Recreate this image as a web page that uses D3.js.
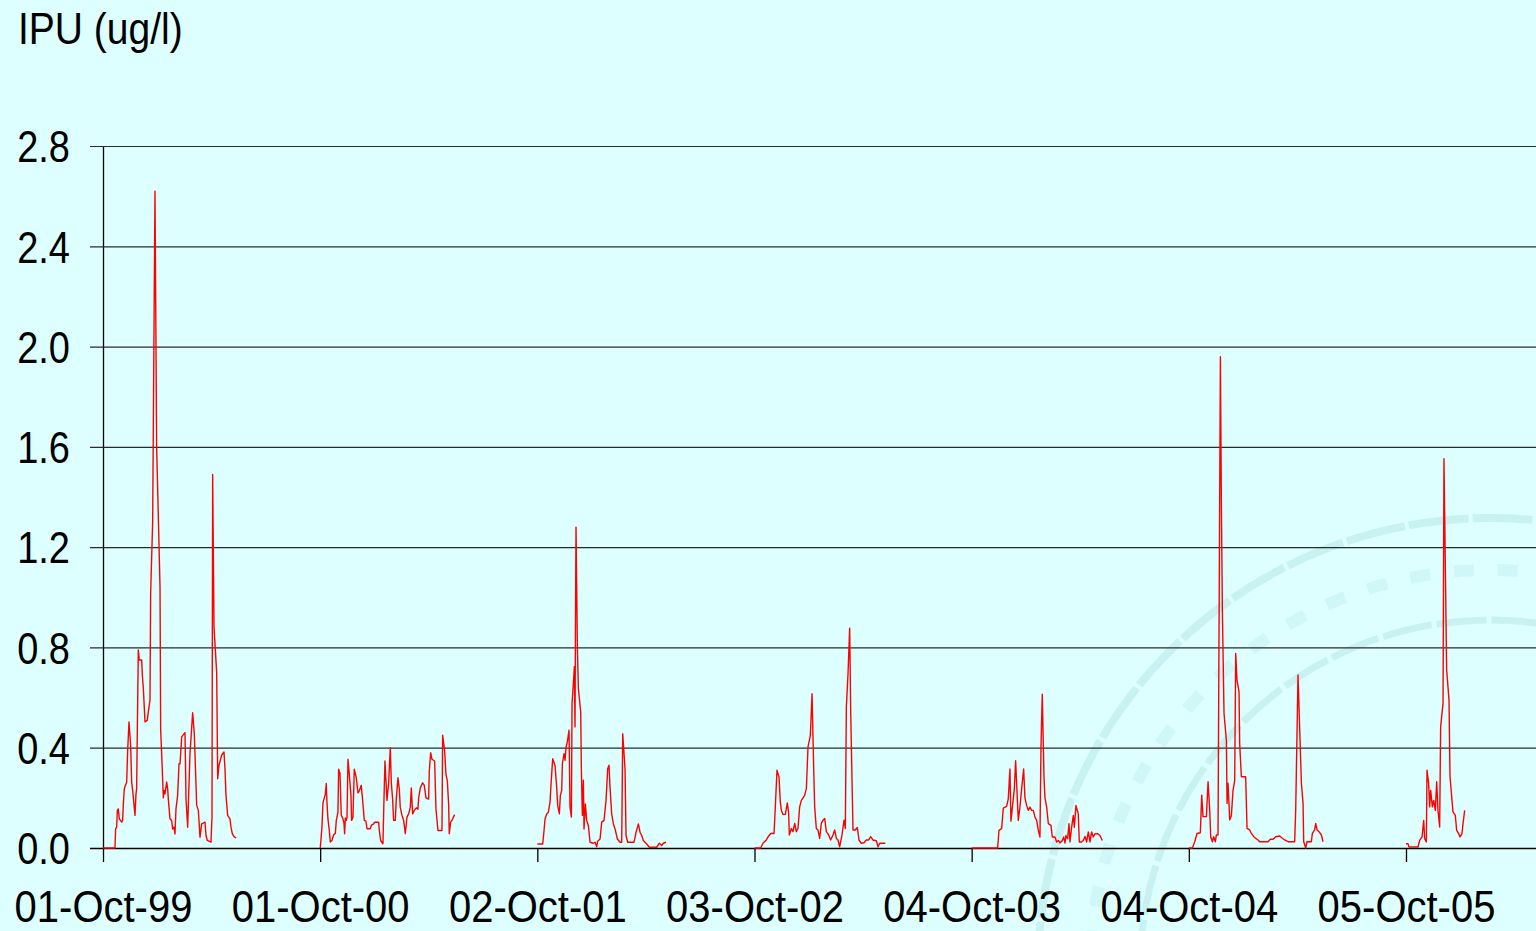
<!DOCTYPE html>
<html>
<head>
<meta charset="utf-8">
<script src="https://cdn.jsdelivr.net/npm/d3@7"></script>
<style>
  html, body { margin: 0; padding: 0; background: #ddffff; overflow: hidden; }
  svg { display: block; }
</style>
</head>
<body>
<div id="chart"></div>
<script>
// tick dates and labels on the x axis (one tick per season start)
const tickDates = ['1999-10-01', '2000-10-01', '2001-10-02', '2002-10-03', '2003-10-04', '2004-10-04', '2005-10-05'];
const tickLabels = ['01-Oct-99', '01-Oct-00', '02-Oct-01', '03-Oct-02', '04-Oct-03', '04-Oct-04', '05-Oct-05'];
const yTicks = [0, 0.4, 0.8, 1.2, 1.6, 2.0, 2.4, 2.8];

// [days since season tick, IPU ug/l]
const season1999 = [[0,0],[20.2,0],[21.3,0.076],[23,0.083],[24.2,0.15],[25.8,0.156],[27.5,0.116],[31.5,0.103],[33.1,0.11],[34.3,0.176],[35.9,0.236],[39.9,0.263],[41.6,0.39],[43.8,0.503],[46.6,0.41],[48.3,0.263],[50,0.23],[53.9,0.13],[55.6,0.216],[56.7,0.236],[59.5,0.79],[61.2,0.75],[65.2,0.75],[66.3,0.69],[68,0.636],[70.8,0.503],[74.7,0.51],[76.4,0.543],[79.2,0.59],[80.3,1.016],[83.7,1.3],[87.6,2.62],[90.4,1.6],[96.1,1.04],[97.2,0.47],[98.9,0.376],[101.7,0.2],[102.8,0.23],[104.5,0.216],[107.3,0.263],[109,0.236],[110.1,0.196],[112.9,0.116],[115.7,0.11],[117.4,0.076],[119.7,0.083],[121.3,0.056],[123,0.156],[125.8,0.21],[128.1,0.336],[129.8,0.336],[132.6,0.443],[138.2,0.46],[139.9,0.196],[142.7,0.083],[146.6,0.376],[151.1,0.54],[153.9,0.456],[157.9,0.17],[160.7,0.15],[163.5,0.043],[166.3,0.096],[171.9,0.103],[173.6,0.05],[175.8,0.03],[182,0.023],[183.7,0.123],[184.8,1.49],[187.1,0.88],[191.6,0.7],[193.3,0.276],[195.5,0.33],[200,0.37],[203.9,0.383],[205.6,0.316],[207.3,0.21],[210.1,0.13],[214,0.116],[215.7,0.083],[218,0.056],[220.8,0.045],[224.2,0.04]];

const season2000 = [[0.2,0],[3,0.083],[4.7,0.18],[8.7,0.215],[10.3,0.257],[11.5,0.18],[13.1,0.116],[15.4,0.07],[17.1,0.024],[19.9,0.03],[22.7,0.053],[25.5,0.057],[27.2,0.11],[30,0.143],[31.1,0.314],[33.4,0.297],[35.6,0.13],[37.9,0.12],[40.1,0.1],[41.2,0.057],[42.4,0.12],[44,0.11],[45.2,0.12],[46.9,0.354],[49.1,0.294],[51.9,0.21],[53,0.11],[55.3,0.123],[57.5,0.314],[60.9,0.28],[63.7,0.22],[66,0.228],[69.3,0.25],[71.6,0.19],[74.4,0.11],[77.2,0.107],[78.9,0.077],[84.5,0.077],[86.2,0.09],[90.1,0.096],[91.8,0.103],[98.5,0.103],[99.7,0.07],[101.9,0.03],[105.8,0.017],[107.5,0.19],[109.2,0.347],[112.6,0.19],[115.4,0.26],[118.2,0.4],[119.9,0.26],[122.1,0.195],[123.8,0.11],[126.6,0.11],[128.3,0.195],[131.1,0.28],[133.4,0.235],[135,0.162],[137.9,0.13],[140.7,0.11],[143.5,0.057],[146.3,0.123],[149.1,0.136],[151.9,0.162],[153.6,0.24],[155.8,0.136],[158.7,0.15],[162,0.16],[164.8,0.155],[166,0.2],[168.8,0.24],[172.7,0.26],[175.5,0.25],[178.3,0.2],[182.8,0.195],[183.9,0.307],[186.2,0.38],[188.4,0.354],[192.9,0.347],[195.2,0.155],[198.5,0.07],[205.3,0.07],[206.4,0.45],[209.8,0.387],[212,0.294],[214.3,0.268],[216.5,0.176],[217.6,0.057],[219.9,0.103],[222.1,0.11],[226.6,0.133]];

const season2001 = [[0,0.016],[9.1,0.016],[11.3,0.07],[13,0.116],[15.8,0.136],[18.6,0.143],[21.4,0.183],[23.1,0.256],[25.9,0.356],[29.8,0.33],[32.6,0.243],[34.3,0.17],[37.1,0.136],[38.8,0.21],[41.1,0.23],[42.2,0.336],[45,0.376],[46.7,0.35],[48.4,0.403],[50.6,0.423],[53.4,0.47],[55.1,0.163],[57.4,0.123],[58.5,0.576],[60.7,0.656],[62.4,0.723],[63.5,0.483],[64.3,0.91],[65.2,1.28],[67.5,0.8],[69.2,0.636],[73.1,0.543],[74.2,0.316],[75.9,0.13],[77.6,0.27],[78.7,0.076],[81,0.176],[83.2,0.11],[86,0.09],[88.8,0.023],[94.4,0.019],[97.3,0.023],[100.1,0.005],[101.7,0.027],[105.7,0.036],[108.5,0.103],[112.4,0.11],[115.8,0.19],[118.6,0.316],[120.8,0.33],[122.5,0.243],[125.3,0.136],[128.2,0.096],[131,0.076],[134.9,0.036],[139.4,0.023],[142.2,0.023],[143.9,0.456],[147.8,0.316],[149.5,0.05],[152.3,0.023],[163,0.023],[166.4,0.063],[170.3,0.096],[173.1,0.063],[175.9,0.05],[178.7,0.03],[184.3,0.016],[188.8,0.003],[201.2,0.003],[205.7,0.019],[209.6,0.01],[212.4,0.019],[216.9,0.023]];

const season2002 = [[0,0],[10.4,0],[14.3,0.019],[19.9,0.032],[23.9,0.048],[27.3,0.058],[32.9,0.058],[35.1,0.164],[37.9,0.31],[41.3,0.283],[43.5,0.184],[45.2,0.151],[48,0.134],[52,0.134],[55.3,0.18],[57.6,0.138],[58.7,0.052],[62.1,0.078],[64.9,0.065],[67.7,0.098],[70.5,0.065],[73.3,0.078],[76.1,0.164],[79,0.19],[84.6,0.21],[87.4,0.237],[90.2,0.403],[94.1,0.449],[97,0.615],[99.7,0.323],[101.4,0.164],[104.2,0.078],[107,0.072],[109.8,0.038],[112.6,0.098],[115.5,0.111],[118.3,0.118],[121.1,0.065],[125,0.052],[128.4,0.032],[132.3,0.052],[135.1,0.072],[138,0.038],[140.7,0.032],[143.5,0.005],[147.5,0.052],[150.9,0.111],[153.1,0.078],[154.8,0.562],[157.6,0.694],[160.4,0.877],[162.1,0.548],[166,0.072],[169.9,0.072],[173.3,0.082],[176.1,0.032],[180,0.019],[184.6,0.021],[188.5,0.032],[192.4,0.032],[195.8,0.045],[199.7,0.032],[205.3,0.029],[208.2,0.005],[211,0.019],[220.5,0.019]];

const season2003 = [[0,0],[43.8,0],[46,0.07],[50.5,0.077],[53.3,0.159],[58.9,0.166],[61.7,0.196],[64.5,0.315],[66.2,0.107],[69,0.17],[71.9,0.236],[74.1,0.348],[76.3,0.23],[78.6,0.11],[81.4,0.163],[84.2,0.236],[87.6,0.315],[89.8,0.2],[92.6,0.17],[95.5,0.15],[98.3,0.163],[101.1,0.15],[103.9,0.15],[106.7,0.123],[109.5,0.11],[112.3,0.07],[115.1,0.044],[116.8,0.4],[119,0.613],[121.9,0.282],[123.5,0.2],[126.4,0.163],[129.2,0.097],[133.7,0.09],[135.9,0.044],[140.4,0.044],[143.2,0.024],[146,0.03],[148.8,0.02],[152.8,0.03],[155,0.044],[157.3,0.02],[158.9,0.05],[161.7,0.037],[164,0.097],[165.7,0.024],[168.5,0.083],[171.3,0.13],[173,0.083],[175.8,0.17],[179.7,0.136],[181.4,0.024],[185.3,0.024],[188.1,0.03],[191,0.046],[193.8,0.024],[196.6,0.064],[199.4,0.024],[202.2,0.064],[205,0.044],[207.8,0.057],[212.3,0.057],[216.2,0.05],[220.2,0.03]];

const season2004 = [[0,0],[6,0],[9.9,0.025],[13.8,0.058],[19.4,0.061],[21.7,0.211],[23.9,0.125],[29.6,0.125],[32.4,0.264],[35.2,0.151],[36.9,0.045],[39.7,0.025],[41.9,0.045],[44.7,0.025],[46.4,0.052],[49.2,0.052],[53.2,1.96],[54.8,1.39],[56.5,0.95],[59.3,0.537],[63.3,0.43],[64.4,0.178],[66.1,0.258],[68.9,0.112],[71.7,0.13],[74.5,0.23],[77.3,0.27],[79,0.776],[81.2,0.67],[84.6,0.623],[85.7,0.417],[88.5,0.284],[95.8,0.284],[98.1,0.078],[102.6,0.072],[105.4,0.058],[109.3,0.045],[112.7,0.039],[116.6,0.032],[119.4,0.025],[133.5,0.025],[137.4,0.035],[141.9,0.035],[146.4,0.045],[153.2,0.048],[157.6,0.039],[161.6,0.032],[167.2,0.025],[178.4,0.025],[180.1,0.151],[184,0.69],[186.9,0.47],[189.7,0.258],[192.5,0.178],[193.6,0.025],[197,0],[199.2,0.025],[206.5,0.025],[208.2,0.058],[212.1,0.072],[213.8,0.098],[216.1,0.072],[219.4,0.065],[223.4,0.052],[226.2,0.025]];

const season2005 = [[0,0.017],[3.4,0.017],[5.1,0.004],[20.2,0.004],[23,0.03],[27,0.044],[29.8,0.11],[31.5,0.037],[34.3,0.024],[35.4,0.31],[38.2,0.257],[39.9,0.164],[41.6,0.23],[44.4,0.164],[46.6,0.19],[49.4,0.15],[51.7,0.264],[53.9,0.15],[56.7,0.084],[58.4,0.484],[62.4,0.577],[64,1.553],[68.5,0.71],[72.5,0.59],[74.2,0.284],[77.5,0.19],[79.2,0.144],[83.1,0.13],[85.4,0.07],[88.8,0.057],[91,0.044],[94.4,0.057],[96.1,0.097],[98.9,0.15]];

const seasons = [season1999, season2000, season2001, season2002, season2003, season2004, season2005];

const width = 1536;
const height = 931;
const margin = { top: 146, right: 0, bottom: 83, left: 103 };
const font = '"Liberation Sans", Arial, Helvetica, sans-serif';

const parse = d3.utcParse('%Y-%m-%d');
const starts = tickDates.map(parse);
const dayMs = 864e5;

const svg = d3.select('#chart')
  .append('svg')
  .attr('width', width)
  .attr('height', height)
  .attr('viewBox', `0 0 ${width} ${height}`);

svg.append('rect')
  .attr('width', width)
  .attr('height', height)
  .attr('fill', '#ddffff');

// faint seal watermark behind the plot
const wm = svg.append('g')
  .attr('fill', 'none')
  .attr('stroke', '#c2eeee')
  .attr('opacity', 0.75);
wm.append('circle')
  .attr('cx', 1490).attr('cy', 970).attr('r', 452)
  .attr('stroke-width', 8)
  .attr('stroke-dasharray', '60 4');
wm.append('circle')
  .attr('cx', 1490).attr('cy', 970).attr('r', 350)
  .attr('stroke-width', 7)
  .attr('stroke-dasharray', '50 5');
wm.append('circle')
  .attr('cx', 1490).attr('cy', 970).attr('r', 400)
  .attr('stroke-width', 12)
  .attr('stroke-dasharray', '20 24')
  .attr('opacity', 0.6);

// the x scale runs past the last tick to the right edge of the picture
const x = d3.scaleUtc()
  .domain([starts[0], starts[6]])
  .range([margin.left, 1406]);

const y = d3.scaleLinear()
  .domain([0, 2.8])
  .range([height - margin.bottom, margin.top]);

// y axis with gridlines reaching across the plot
const yAxis = d3.axisLeft(y)
  .tickValues(yTicks)
  .tickFormat(d3.format('.1f'))
  .tickSize(13)
  .tickSizeOuter(0)
  .tickPadding(20);

svg.append('g')
  .attr('transform', `translate(${margin.left},0)`)
  .call(yAxis)
  .call(g => g.select('.domain').attr('stroke', '#000').attr('stroke-width', 1.3))
  .call(g => g.selectAll('.tick line')
    .attr('x1', width - margin.left)
    .attr('stroke', d => d === 0 ? '#000' : '#2a2a2a')
    .attr('stroke-width', d => d === 0 ? 1.6 : 1.2))
  .call(g => g.selectAll('.tick text')
    .attr('fill', '#000')
    .attr('font-size', 38)
    .attr('font-family', font)
    .attr('dy', '0.36em')
    .attr('transform', 'scale(1,1.15)'));

// x axis: ticks and date labels
const xAxis = d3.axisBottom(x)
  .tickValues(starts)
  .tickFormat((d, i) => tickLabels[i])
  .tickSize(14)
  .tickSizeOuter(0);

svg.append('g')
  .attr('transform', `translate(0,${y(0)})`)
  .call(xAxis)
  .call(g => g.select('.domain').remove())
  .call(g => g.selectAll('.tick line').attr('stroke', '#000').attr('stroke-width', 1.3))
  .call(g => g.selectAll('.tick text')
    .attr('fill', '#000')
    .attr('font-size', 40)
    .attr('font-family', font)
    .attr('y', 0)
    .attr('dy', 0)
    .attr('transform', 'translate(0,74) scale(1,1.1)'));

// y axis title
svg.append('text')
  .attr('transform', 'translate(18,44) scale(1,1.13)')
  .attr('font-size', 39)
  .attr('font-family', font)
  .attr('fill', '#000')
  .text('IPU (ug/l)');

// one red line per season
const line = (start) => d3.line()
  .x(d => x(new Date(start.getTime() + d[0] * dayMs)))
  .y(d => y(d[1]));

svg.append('g')
  .attr('class', 'series')
  .selectAll('path')
  .data(seasons)
  .join('path')
  .attr('d', (d, i) => line(starts[i])(d))
  .attr('fill', 'none')
  .attr('stroke', '#ff0000')
  .attr('stroke-width', 1.4)
  .attr('stroke-linejoin', 'round');
</script>
</body>
</html>
